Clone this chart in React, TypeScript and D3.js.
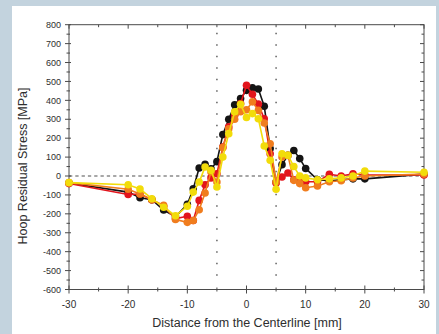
import React from "react";
import * as d3 from "d3";

const xs = [-30, -20, -18, -16, -14, -12, -10, -9, -8, -7, -6, -5, -4, -3, -2, -1, 0, 1, 2, 3, 4, 5, 6, 7, 8, 9, 10, 12, 14, 16, 18, 20, 30];
const blackVals = [-37, -85, -115, -125, -180, -215, -150, -67, 42, 62, 38, 76, 219, 300, 377, 410, 453, 467, 460, 369, 145, -32, 60, 110, 135, 92, 40, -20, -25, -20, -15, -15, 10];
const redVals = [-40, -98, -95, -125, -160, -225, -213, -235, -129, -46, -10, 12, 153, 260, 321, 383, 480, 432, 380, 303, 118, -37, -5, 16, -20, -20, -30, -30, 9, 0, 12, 5, 5];
const orangeVals = [-35, -70, -95, -125, -155, -230, -245, -235, -178, -90, 21, -32, 150, 250, 300, 340, 350, 392, 347, 280, 170, -30, 100, 109, -23, -40, -62, -53, -30, -25, -10, 0, 10];
const yellowVals = [-35, -46, -69, -120, -165, -210, -160, -85, -32, 48, 30, -58, 100, 224, 339, 379, 309, 330, 303, 159, 83, -70, 118, 110, 50, 0, -10, -20, -15, -10, 0, 26, 20];

const seriesList = [
  { name: "black", values: blackVals, color: "#141414" },
  { name: "red", values: redVals, color: "#e2141c" },
  { name: "orange", values: orangeVals, color: "#f07d1e" },
  { name: "yellow", values: yellowVals, color: "#f2dc0a" },
];

const xTicks = [-30, -20, -10, 0, 10, 20, 30];
const yTicks = [-600, -500, -400, -300, -200, -100, 0, 100, 200, 300, 400, 500, 600, 700, 800];
const vLines = [-5, 5];

export default function App() {
  const W = 439, H = 334;
  const L = 69, R = 424, T = 24.7, B = 289.5;
  const x = d3.scaleLinear().domain([-30, 30]).range([L, R]);
  const y = d3.scaleLinear().domain([-600, 800]).range([B, T]);
  const line = d3.line<number>().x((_, i) => x(xs[i])).y((v) => y(v));
  const axisColor = "#4a4a4a";
  const textColor = "#2e2e2e";
  const font = "Liberation Sans, Arial, sans-serif";
  const xMinor = d3.range(-25, 30, 10);
  const yMinor = d3.range(-550, 800, 100);

  return (
    <svg width={W} height={H} style={{ position: "absolute", left: 0, top: 0 }}>
      <defs>
        <clipPath id="panel">
          <rect x={12} y={6} width={418} height={H - 6} />
        </clipPath>
      </defs>
      <rect x={0} y={0} width={W} height={H} fill="#c3d3de" />
      <rect x={12} y={6} width={424} height={H - 6} fill="#ffffff" />
      {/* reference lines */}
      <line x1={L} x2={R} y1={y(0)} y2={y(0)} stroke="#8a8a8a" strokeWidth={1.6} strokeDasharray="3.3 3" />
      {vLines.map((v) => (
        <line key={v} x1={x(v)} x2={x(v)} y1={T + 8} y2={B - 6} stroke="#555" strokeWidth={1.4} strokeDasharray="1.5 10" />
      ))}
      {/* frame */}
      <rect x={L} y={T} width={R - L} height={B - T} fill="none" stroke={axisColor} strokeWidth={1} />
      {/* x ticks */}
      {xTicks.map((t) => (
        <g key={"xt" + t}>
          <line x1={x(t)} x2={x(t)} y1={B - 4} y2={B + 4} stroke={axisColor} />
          <line x1={x(t)} x2={x(t)} y1={T} y2={T + 4} stroke={axisColor} />
          <text x={x(t)} y={B + 18} textAnchor="middle" fontSize={10} fill={textColor} fontFamily={font} clipPath="url(#panel)">
            {t}
          </text>
        </g>
      ))}
      {xMinor.map((t) => (
        <g key={"xm" + t}>
          <line x1={x(t)} x2={x(t)} y1={B - 2} y2={B + 2} stroke={axisColor} />
          <line x1={x(t)} x2={x(t)} y1={T} y2={T + 2.5} stroke={axisColor} />
        </g>
      ))}
      {/* y ticks */}
      {yTicks.map((t) => (
        <g key={"yt" + t}>
          <line x1={L - 4} x2={L + 2} y1={y(t)} y2={y(t)} stroke={axisColor} />
          <line x1={R - 4} x2={R} y1={y(t)} y2={y(t)} stroke={axisColor} />
          <text x={L - 8} y={y(t) + 3.2} textAnchor="end" fontSize={9} fill={textColor} fontFamily={font}>
            {t}
          </text>
        </g>
      ))}
      {yMinor.map((t) => (
        <g key={"ym" + t}>
          <line x1={L - 2.5} x2={L + 1} y1={y(t)} y2={y(t)} stroke={axisColor} />
          <line x1={R - 2.5} x2={R} y1={y(t)} y2={y(t)} stroke={axisColor} />
        </g>
      ))}
      {/* series */}
      {seriesList.map((s) => (
        <g key={s.name}>
          <path d={line(s.values) || ""} fill="none" stroke={s.color} strokeWidth={1.6} />
          {s.values.map((v, i) => (
            <circle key={i} cx={x(xs[i])} cy={y(v)} r={3.8} fill={s.color} />
          ))}
        </g>
      ))}
      {/* titles */}
      <text x={247} y={327} textAnchor="middle" fontSize={12.5} fill={textColor} fontFamily={font}>
        Distance from the Centerline [mm]
      </text>
      <text
        transform={`translate(27, 166) rotate(-90)`}
        textAnchor="middle"
        fontSize={12.5}
        fill={textColor}
        fontFamily={font}
      >
        Hoop Residual Stress [MPa]
      </text>
    </svg>
  );
}
